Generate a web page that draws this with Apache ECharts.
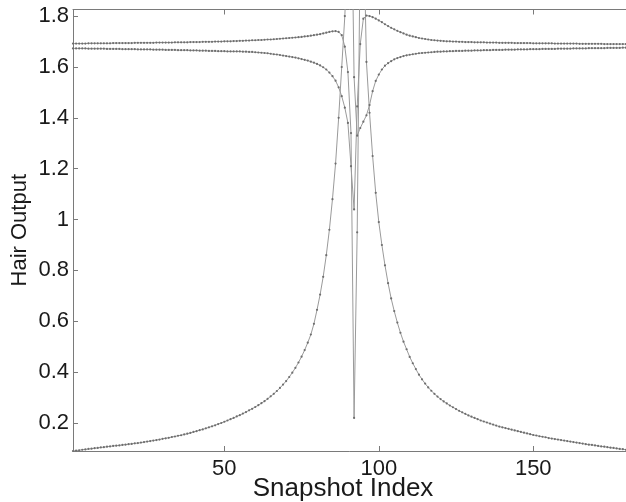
<!DOCTYPE html>
<html><head><meta charset="utf-8">
<script src="https://cdn.jsdelivr.net/npm/echarts@6/dist/echarts.min.js"></script>
<style>html,body{margin:0;padding:0;background:#fff}#c{width:626px;height:502px}</style>
</head><body><div id="c"></div>
<script>
// Hair output per snapshot (index 1..181), three traces
const seriesA = [
1.692,1.692,1.692,1.692,1.692,1.693,1.693,1.693,1.693,1.693,
1.693,1.693,1.693,1.694,1.694,1.694,1.694,1.694,1.694,1.694,
1.695,1.695,1.695,1.695,1.695,1.695,1.695,1.696,1.696,1.696,
1.696,1.696,1.696,1.697,1.697,1.697,1.697,1.697,1.698,1.698,
1.698,1.698,1.699,1.699,1.699,1.699,1.700,1.700,1.700,1.701,
1.701,1.701,1.702,1.702,1.703,1.703,1.704,1.704,1.705,1.705,
1.706,1.706,1.707,1.708,1.708,1.709,1.710,1.711,1.712,1.713,
1.714,1.715,1.716,1.717,1.718,1.720,1.721,1.723,1.725,1.727,
1.729,1.732,1.735,1.738,1.740,1.741,1.738,1.725,1.680,1.580,
1.340,0.220,0.950,2.100,2.200,1.620,1.420,1.250,1.105,0.990,
0.900,0.820,0.750,0.690,0.640,0.595,0.555,0.520,0.490,0.460,
0.435,0.412,0.390,0.372,0.355,0.340,0.327,0.315,0.304,0.294,
0.285,0.277,0.269,0.262,0.255,0.248,0.242,0.236,0.230,0.225,
0.220,0.215,0.210,0.206,0.202,0.198,0.194,0.190,0.186,0.183,
0.180,0.177,0.174,0.171,0.168,0.165,0.162,0.159,0.156,0.153,
0.151,0.148,0.146,0.144,0.141,0.139,0.137,0.135,0.133,0.131,
0.129,0.127,0.125,0.123,0.121,0.119,0.117,0.115,0.114,0.112,
0.110,0.108,0.107,0.105,0.103,0.102,0.100,0.098,0.097,0.095,
0.094];
const seriesB = [
1.673,1.673,1.673,1.673,1.673,1.672,1.672,1.672,1.672,1.672,
1.672,1.671,1.671,1.671,1.671,1.671,1.670,1.670,1.670,1.670,
1.670,1.669,1.669,1.669,1.669,1.669,1.668,1.668,1.668,1.668,
1.667,1.667,1.667,1.667,1.666,1.666,1.666,1.666,1.665,1.665,
1.665,1.664,1.664,1.664,1.663,1.663,1.663,1.662,1.662,1.662,
1.661,1.661,1.661,1.661,1.661,1.660,1.660,1.659,1.659,1.658,
1.657,1.656,1.655,1.654,1.652,1.650,1.649,1.647,1.645,1.643,
1.641,1.639,1.637,1.634,1.631,1.628,1.625,1.621,1.617,1.612,
1.606,1.599,1.590,1.578,1.564,1.546,1.520,1.485,1.440,1.380,
1.210,1.040,1.445,1.690,1.790,1.802,1.800,1.796,1.790,1.783,
1.776,1.768,1.761,1.754,1.748,1.742,1.737,1.732,1.727,1.723,
1.720,1.717,1.714,1.712,1.710,1.708,1.706,1.705,1.704,1.703,
1.702,1.701,1.701,1.700,1.700,1.699,1.699,1.698,1.698,1.698,
1.697,1.697,1.697,1.697,1.696,1.696,1.696,1.696,1.695,1.695,
1.695,1.695,1.695,1.694,1.694,1.694,1.694,1.694,1.694,1.693,
1.693,1.693,1.693,1.693,1.693,1.693,1.692,1.692,1.692,1.692,
1.692,1.692,1.692,1.692,1.691,1.691,1.691,1.691,1.691,1.691,
1.691,1.691,1.690,1.690,1.690,1.690,1.690,1.690,1.690,1.690,
1.690];
const seriesC = [
0.090,0.092,0.093,0.095,0.096,0.098,0.099,0.101,0.102,0.104,
0.105,0.107,0.108,0.110,0.111,0.112,0.114,0.115,0.117,0.118,
0.120,0.121,0.123,0.125,0.127,0.129,0.131,0.133,0.135,0.138,
0.140,0.142,0.145,0.147,0.150,0.152,0.155,0.158,0.161,0.165,
0.168,0.172,0.175,0.179,0.183,0.187,0.191,0.196,0.200,0.205,
0.210,0.215,0.220,0.226,0.231,0.237,0.243,0.250,0.256,0.263,
0.270,0.278,0.286,0.295,0.305,0.315,0.326,0.338,0.351,0.365,
0.381,0.398,0.417,0.438,0.461,0.487,0.516,0.548,0.590,0.645,
0.705,0.775,0.860,0.960,1.080,1.220,1.400,1.600,1.800,2.100,
2.400,1.560,1.330,1.360,1.385,1.410,1.450,1.505,1.545,1.570,
1.590,1.605,1.615,1.623,1.630,1.635,1.639,1.643,1.646,1.648,
1.650,1.652,1.654,1.655,1.656,1.657,1.658,1.659,1.660,1.660,
1.661,1.661,1.662,1.662,1.663,1.663,1.663,1.664,1.664,1.664,
1.665,1.665,1.665,1.666,1.666,1.666,1.667,1.667,1.667,1.667,
1.668,1.668,1.668,1.668,1.669,1.669,1.669,1.669,1.670,1.670,
1.670,1.670,1.671,1.671,1.671,1.671,1.671,1.672,1.672,1.672,
1.672,1.672,1.673,1.673,1.673,1.673,1.673,1.674,1.674,1.674,
1.674,1.674,1.674,1.675,1.675,1.675,1.675,1.675,1.676,1.676,
1.676];
const xTicks = [50, 100, 150];
const yTicks = [0.2, 0.4, 0.6, 0.8, 1.0, 1.2, 1.4, 1.6, 1.8];
const xRange = [1, 181];
const yRange = [0.09, 1.826];
const xName = 'Snapshot Index';
const yName = 'Hair Output';

const snapshotIndex = seriesA.map((_, i) => i + 1);
const toPairs = arr => arr.map((v, i) => [snapshotIndex[i], v]);

const FONT = 'Liberation Sans, Arial, Helvetica, sans-serif';
const axisColor = '#7a7a7a';
const textColor = '#1a1a1a';

const chart = echarts.init(document.getElementById('c'), null, {renderer: 'canvas'});
const mkSeries = (arr) => ({
  type: 'line', data: toPairs(arr), clip: true,
  symbol: 'circle', symbolSize: 2.2, showSymbol: true,
  lineStyle: {color: '#9a9a9a', width: 1},
  itemStyle: {color: '#6e6e6e'},
  emphasis: {disabled: true}, animation: false
});
const baseX = {
  type: 'value', min: xRange[0], max: xRange[1],
  axisLine: {show: true, lineStyle: {color: axisColor, width: 1}},
  splitLine: {show: false},
  axisTick: {show: true, inside: true, length: 5, customValues: xTicks, lineStyle: {color: axisColor}},
};
chart.setOption({
  animation: false,
  backgroundColor: '#ffffff',
  grid: {left: 73, right: -3, top: 9.5, bottom: 51, containLabel: false, outerBoundsMode: 'none'},
  xAxis: [
    Object.assign({}, baseX, {
      position: 'bottom',
      name: xName, nameLocation: 'middle', nameGap: 25, nameMoveOverlap: false,
      nameTextStyle: {fontFamily: FONT, fontSize: 26, color: textColor, padding: [0, 16, 0, 0]},
      axisLabel: {show: true, customValues: xTicks, margin: 7, fontFamily: FONT, fontSize: 22, color: textColor}
    }),
    Object.assign({}, baseX, {position: 'top', axisLabel: {show: false}})
  ],
  yAxis: {
    type: 'value', min: yRange[0], max: yRange[1],
    axisLine: {show: true, lineStyle: {color: axisColor, width: 1}},
    splitLine: {show: false},
    axisTick: {show: true, inside: true, length: 5, customValues: yTicks, lineStyle: {color: axisColor}},
    axisLabel: {show: true, customValues: yTicks, margin: 4, fontFamily: FONT, fontSize: 22, color: textColor,
      formatter: v => String(+(+v).toFixed(1))},
    name: yName, nameLocation: 'middle', nameGap: 42, nameRotate: 90, nameMoveOverlap: false,
    nameTextStyle: {fontFamily: FONT, fontSize: 22, color: textColor}
  },
  series: [mkSeries(seriesA), mkSeries(seriesB), mkSeries(seriesC)]
});
</script>
</body></html>
